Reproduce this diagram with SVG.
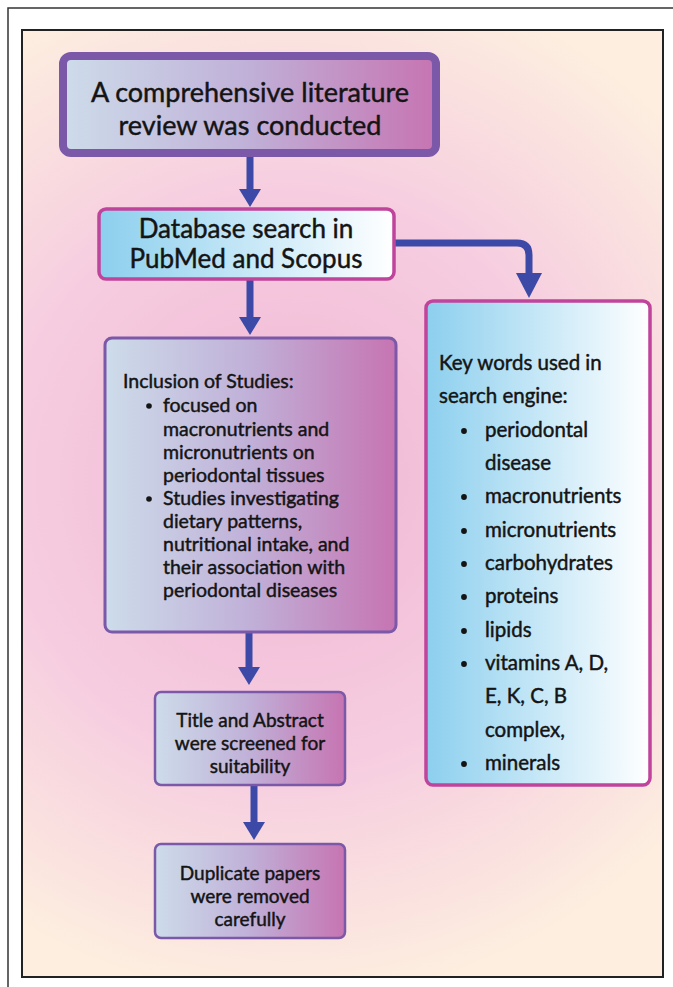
<svg xmlns="http://www.w3.org/2000/svg" width="673" height="987" viewBox="0 0 673 987">
<defs>
<radialGradient id="bg" cx="290" cy="480" r="520" gradientUnits="userSpaceOnUse">
<stop offset="0" stop-color="#f0b6d4"/>
<stop offset="0.55" stop-color="#f6cde0"/>
<stop offset="1" stop-color="#fdeedf"/>
</radialGradient>
<linearGradient id="gp" x1="0" y1="0" x2="1" y2="0">
<stop offset="0" stop-color="#cddcea"/>
<stop offset="0.5" stop-color="#c0b0d8"/>
<stop offset="1" stop-color="#c674b2"/>
</linearGradient>
<linearGradient id="gb" x1="0" y1="0" x2="1" y2="0">
<stop offset="0" stop-color="#8ccfee"/>
<stop offset="1" stop-color="#ffffff"/>
</linearGradient>
<marker id="ah" viewBox="0 0 18 22" refX="0" refY="11" markerWidth="18" markerHeight="22" markerUnits="userSpaceOnUse" orient="auto">
<path d="M0,0 L18,11 L0,22 z" fill="#3d49a6"/>
</marker>
<marker id="ahL" viewBox="0 0 25 26" refX="0" refY="13" markerWidth="25" markerHeight="26" markerUnits="userSpaceOnUse" orient="auto">
<path d="M0,0 L25,13 L0,26 z" fill="#3d49a6"/>
</marker>
</defs>
<style>
.t{font-family:Lato,"Liberation Sans",sans-serif;fill:#141414;stroke:#141414;stroke-width:0.45;}
.c{text-anchor:middle;}
.conn{fill:none;stroke:#3d49a6;stroke-width:7;}
.dot{fill:#141414;}
</style>
<rect x="8" y="8" width="700" height="1000" fill="#ffffff" stroke="#333" stroke-width="1.5"/>
<rect x="22" y="30" width="641" height="947" fill="url(#bg)" stroke="#222" stroke-width="2"/>

<g id="connectors">
<path class="conn" d="M250,157 V189" marker-end="url(#ah)"/>
<path class="conn" d="M250,280 V317" marker-end="url(#ah)"/>
<path class="conn" d="M395,243 H517 Q529,243 529,255 V273" marker-end="url(#ahL)"/>
<path class="conn" d="M249,632 V667" marker-end="url(#ah)"/>
<path class="conn" d="M254,785 V822" marker-end="url(#ah)"/>
</g>

<g id="n-review">
<rect x="63" y="56" width="373" height="97" rx="8" fill="url(#gp)" stroke="#7b58a8" stroke-width="8"/>
<text class="t c" x="250" y="102" font-size="27">A comprehensive literature</text>
<text class="t c" x="250" y="135" font-size="27">review was conducted</text>
</g>

<g id="n-database">
<rect x="99" y="209" width="295" height="70" rx="7" fill="url(#gb)" stroke="#c0449b" stroke-width="3.5"/>
<text class="t c" x="246" y="238" font-size="26">Database search in</text>
<text class="t c" x="246" y="268" font-size="26">PubMed and Scopus</text>
</g>

<g id="n-inclusion">
<rect x="105" y="338" width="291" height="294" rx="7" fill="url(#gp)" stroke="#7b58a8" stroke-width="3"/>
<text class="t" x="123" y="388" font-size="19.5">Inclusion of Studies:</text>
<circle class="dot" cx="149" cy="406" r="2.8"/>
<text class="t" x="163" y="412" font-size="19.5">focused on</text>
<text class="t" x="163" y="436" font-size="19.5">macronutrients and</text>
<text class="t" x="163" y="459" font-size="19.5">micronutrients on</text>
<text class="t" x="163" y="482" font-size="19.5">periodontal tissues</text>
<circle class="dot" cx="149" cy="499" r="2.8"/>
<text class="t" x="163" y="505" font-size="19.5">Studies investigating</text>
<text class="t" x="163" y="528" font-size="19.5">dietary patterns,</text>
<text class="t" x="163" y="551" font-size="19.5">nutritional intake, and</text>
<text class="t" x="163" y="574" font-size="19.5">their association with</text>
<text class="t" x="163" y="597" font-size="19.5">periodontal diseases</text>
</g>

<g id="n-keywords">
<rect x="426" y="301" width="224" height="484" rx="7" fill="url(#gb)" stroke="#c0449b" stroke-width="3.5"/>
<text class="t" x="439" y="370" font-size="20.5">Key words used in</text>
<text class="t" x="439" y="403" font-size="20.5">search engine:</text>
<circle class="dot" cx="464" cy="431" r="2.9"/>
<text class="t" x="485" y="437" font-size="20.5">periodontal</text>
<text class="t" x="485" y="470" font-size="20.5">disease</text>
<circle class="dot" cx="464" cy="497" r="2.9"/>
<text class="t" x="485" y="503" font-size="20.5">macronutrients</text>
<circle class="dot" cx="464" cy="531" r="2.9"/>
<text class="t" x="485" y="537" font-size="20.5">micronutrients</text>
<circle class="dot" cx="464" cy="564" r="2.9"/>
<text class="t" x="485" y="570" font-size="20.5">carbohydrates</text>
<circle class="dot" cx="464" cy="597" r="2.9"/>
<text class="t" x="485" y="603" font-size="20.5">proteins</text>
<circle class="dot" cx="464" cy="631" r="2.9"/>
<text class="t" x="485" y="637" font-size="20.5">lipids</text>
<circle class="dot" cx="464" cy="664" r="2.9"/>
<text class="t" x="485" y="670" font-size="20.5">vitamins A, D,</text>
<text class="t" x="485" y="703" font-size="20.5">E, K, C, B</text>
<text class="t" x="485" y="737" font-size="20.5">complex,</text>
<circle class="dot" cx="464" cy="764" r="2.9"/>
<text class="t" x="485" y="770" font-size="20.5">minerals</text>
</g>

<g id="n-title">
<rect x="155" y="692" width="190" height="93" rx="6" fill="url(#gp)" stroke="#7b58a8" stroke-width="2.5"/>
<text class="t c" x="250" y="727" font-size="19">Title and Abstract</text>
<text class="t c" x="250" y="750" font-size="19">were screened for</text>
<text class="t c" x="250" y="773" font-size="19">suitability</text>
</g>

<g id="n-duplicate">
<rect x="155" y="844" width="190" height="94" rx="6" fill="url(#gp)" stroke="#7b58a8" stroke-width="2.5"/>
<text class="t c" x="250" y="880" font-size="19">Duplicate papers</text>
<text class="t c" x="250" y="903" font-size="19">were removed</text>
<text class="t c" x="250" y="926" font-size="19">carefully</text>
</g>
</svg>
